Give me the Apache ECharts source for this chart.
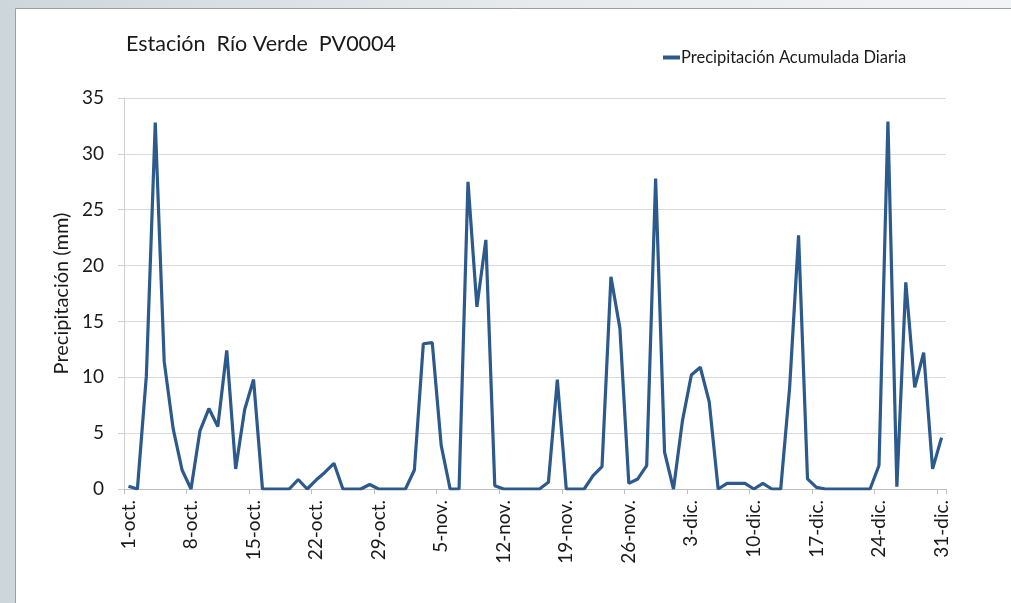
<!DOCTYPE html>
<html>
<head>
<meta charset="utf-8">
<script src="https://cdn.jsdelivr.net/npm/echarts@6/dist/echarts.min.js"></script>
<style>
  html, body { margin: 0; padding: 0; background: #ffffff; }
  #chart { width: 1011px; height: 603px; }
</style>
</head>
<body>
<div id="chart"></div>
<script>
// Daily accumulated precipitation, Río Verde station PV0004, 1 Oct – 31 Dec
const months = [
  { name: 'oct.', days: 31 },
  { name: 'nov.', days: 30 },
  { name: 'dic.', days: 31 }
];

const precipOct = [
  0.25, 0, 10.1, 32.8, 11.4, 5.4, 1.7, 0, 5.2, 7.2,
  5.6, 12.4, 1.8, 7.1, 9.8, 0, 0, 0, 0, 0.85,
  0, 0.8, 1.5, 2.3, 0, 0, 0, 0.4, 0, 0,
  0
];
const precipNov = [
  0, 1.7, 13.0, 13.1, 3.9, 0, 0, 27.5, 16.3, 22.3,
  0.3, 0, 0, 0, 0, 0, 0.6, 9.8, 0, 0,
  0, 1.2, 2.0, 19.0, 14.4, 0.5, 0.9, 2.1, 27.8, 3.3
];
const precipDic = [
  0, 6.1, 10.2, 10.9, 7.8, 0, 0.5, 0.5, 0.5, 0,
  0.5, 0, 0, 9.1, 22.7, 0.9, 0.15, 0, 0, 0,
  0, 0, 0, 2.1, 32.9, 0.2, 18.5, 9.1, 12.2, 1.8,
  4.6
];

const yTicks = [0, 5, 10, 15, 20, 25, 30, 35];

// Category labels such as "1-oct.", "2-oct." ...
const dayLabels = [];
months.forEach(m => {
  for (let d = 1; d <= m.days; d++) dayLabels.push(d + '-' + m.name);
});
const precip = precipOct.concat(precipNov, precipDic);

const FONT = 'Lato';
const chart = echarts.init(document.getElementById('chart'), null, { renderer: 'canvas' });

chart.setOption({
  animation: false,
  backgroundColor: '#ffffff',
  graphic: [
    {
      type: 'rect', z: -10, silent: true,
      shape: { x: 0, y: 0, width: 1011, height: 603 },
      style: {
        fill: new echarts.graphic.LinearGradient(0, 0, 1, 0, [
          { offset: 0, color: '#cdd7db' },
          { offset: 0.5, color: '#e6eaec' },
          { offset: 1, color: '#f2f3f5' }
        ])
      }
    },
    {
      type: 'rect', z: -9, silent: true,
      shape: { x: 15.5, y: 8.5, width: 1000, height: 600 },
      style: { fill: '#ffffff', stroke: '#9a9fa3', lineWidth: 1 }
    }
  ],
  title: {
    text: 'Estación  Río Verde  PV0004',
    left: 121,
    top: 28,
    textStyle: {
      fontFamily: FONT,
      fontSize: 21.5,
      fontWeight: 'normal',
      color: '#1a1a1a'
    }
  },
  legend: {
    data: ['Precipitación Acumulada Diaria'],
    left: 658,
    top: 44,
    itemWidth: 17,
    itemHeight: 4,
    itemGap: 2,
    icon: 'rect',
    textStyle: { fontFamily: FONT, fontSize: 16.5, color: '#1a1a1a', padding: [0, 0, 0, -4] }
  },
  grid: {
    left: 124,
    right: 65,
    top: 98,
    bottom: 114,
    containLabel: false
  },
  xAxis: {
    type: 'category',
    data: dayLabels,
    boundaryGap: true,
    axisLine: { lineStyle: { color: '#bfbfbf', width: 1 } },
    axisTick: { show: true, interval: 6, length: 5, lineStyle: { color: '#bfbfbf' } },
    axisLabel: {
      interval: 6,
      rotate: 90,
      margin: 11,
      fontFamily: FONT,
      fontSize: 19,
      color: '#1a1a1a'
    },
    splitLine: { show: false }
  },
  yAxis: {
    type: 'value',
    min: yTicks[0],
    max: yTicks[yTicks.length - 1],
    interval: 5,
    name: 'Precipitación (mm)',
    nameLocation: 'middle',
    nameGap: 52,
    nameRotate: 90,
    nameTextStyle: { fontFamily: FONT, fontSize: 20, color: '#1a1a1a' },
    axisLine: { show: true, lineStyle: { color: '#d0d0d0' } },
    axisTick: { show: true, length: 6, lineStyle: { color: '#d0d0d0' } },
    axisLabel: { margin: 20, fontFamily: FONT, fontSize: 19, color: '#1a1a1a' },
    splitLine: { show: true, lineStyle: { color: '#d9d9d9', width: 1 } }
  },
  series: [
    {
      name: 'Precipitación Acumulada Diaria',
      type: 'line',
      data: precip,
      symbol: 'none',
      lineStyle: { color: '#2c5a8c', width: 3.2 },
      itemStyle: { color: '#2c5a8c' }
    }
  ]
});
</script>
</body>
</html>
